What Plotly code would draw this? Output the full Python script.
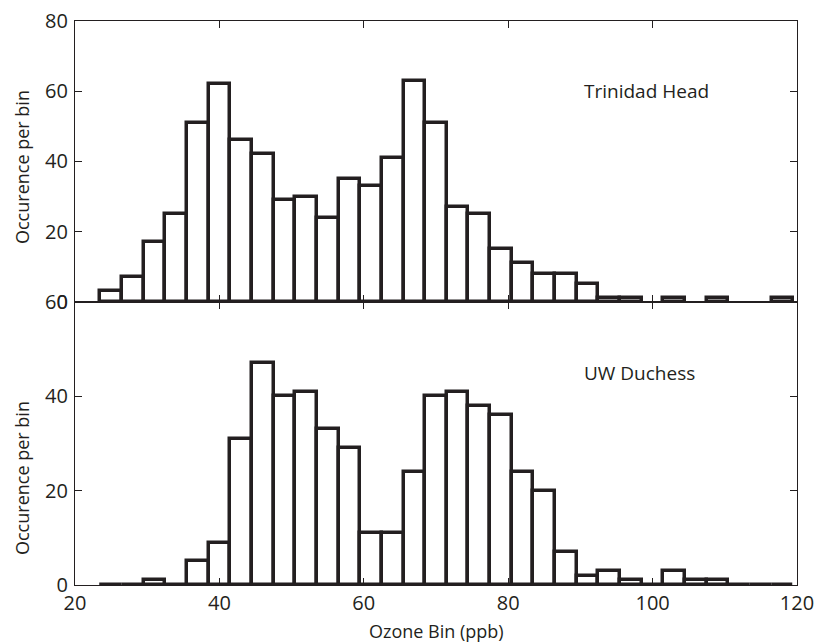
import plotly.graph_objects as go

# Bin centers (ppb), bin width 3
bin_centers = [25 + 3 * i for i in range(32)]
bin_width = 3

trinidad_head = [3, 7, 17, 25, 51, 62, 46, 42, 29, 30, 24, 35, 33, 41, 63, 51,
                 27, 25, 15, 11, 8, 8, 5, 1, 1, None, 1, None, 1, None, None, 1]
uw_duchess = [0, 0, 1, 0, 5, 9, 31, 47, 40, 41, 33, 29, 11, 11, 24, 40,
              41, 38, 36, 24, 20, 7, 2, 3, 1, 0, 3, 1, 1, 0, 0, 0]

x_ticks = [20, 40, 60, 80, 100, 120]
top_y_ticks = [0, 20, 40, 60, 80]
bottom_y_ticks = [0, 20, 40, 60]

FONT = "Open Sans"
INK = "#231f20"
split = 0.5018

fig = go.Figure()
bar_style = dict(marker=dict(color="white", line=dict(color=INK, width=3.5)),
                 width=bin_width, showlegend=False, hoverinfo="x+y")
fig.add_trace(go.Bar(x=bin_centers, y=trinidad_head, xaxis="x", yaxis="y", **bar_style))
fig.add_trace(go.Bar(x=bin_centers, y=uw_duchess, xaxis="x2", yaxis="y2", **bar_style))

axis_common = dict(showline=True, linecolor=INK, linewidth=1.3, mirror="ticks",
                   ticks="inside", ticklen=7, tickcolor=INK, tickwidth=1,
                   showgrid=False, zeroline=False, automargin=False,
                   ticklabeloverflow="allow",
                   tickfont=dict(family=FONT, size=20, color=INK))

title_font = dict(family=FONT, size=18, color=INK)

fig.update_layout(
    width=814, height=642,
    margin=dict(l=75, r=17, t=21, b=57),
    paper_bgcolor="white", plot_bgcolor="white",
    bargap=0,
    font=dict(family=FONT, color=INK),
    xaxis=dict(range=[20, 120], tickvals=x_ticks, showticklabels=False,
               domain=[0, 1], anchor="y", **axis_common),
    yaxis=dict(range=[0, 80], tickvals=top_y_ticks, domain=[split, 1], anchor="x",
               ticklabelstandoff=2, **axis_common),
    xaxis2=dict(range=[20, 120], tickvals=x_ticks, domain=[0, 1], anchor="y2",
                **axis_common),
    yaxis2=dict(range=[0, 60], tickvals=bottom_y_ticks, domain=[0, split], anchor="x2",
                ticklabelstandoff=2, **axis_common),
    annotations=[
        dict(text="Trinidad Head", x=90.2, y=60, xref="x", yref="y", xanchor="left",
             yanchor="middle", showarrow=False, font=dict(family=FONT, size=19, color=INK)),
        dict(text="UW Duchess", x=90.2, y=45, xref="x2", yref="y2", xanchor="left",
             yanchor="middle", showarrow=False, font=dict(family=FONT, size=19, color=INK)),
        dict(text="Occurence per bin", textangle=-90, x=-0.0734, y=(585 - 167) / 564,
             xref="paper", yref="paper", xanchor="center", yanchor="middle",
             showarrow=False, font=title_font),
        dict(text="Occurence per bin", textangle=-90, x=-0.0734, y=(585 - 478) / 564,
             xref="paper", yref="paper", xanchor="center", yanchor="middle",
             showarrow=False, font=title_font),
        dict(text="Ozone Bin (ppb)", x=0.5, y=(585 - 631) / 564,
             xref="paper", yref="paper", xanchor="center", yanchor="middle",
             showarrow=False, font=title_font),
    ],
)

fig.write_html("out.html", config={"displayModeBar": False},
               post_script="document.body.style.margin='0';")
